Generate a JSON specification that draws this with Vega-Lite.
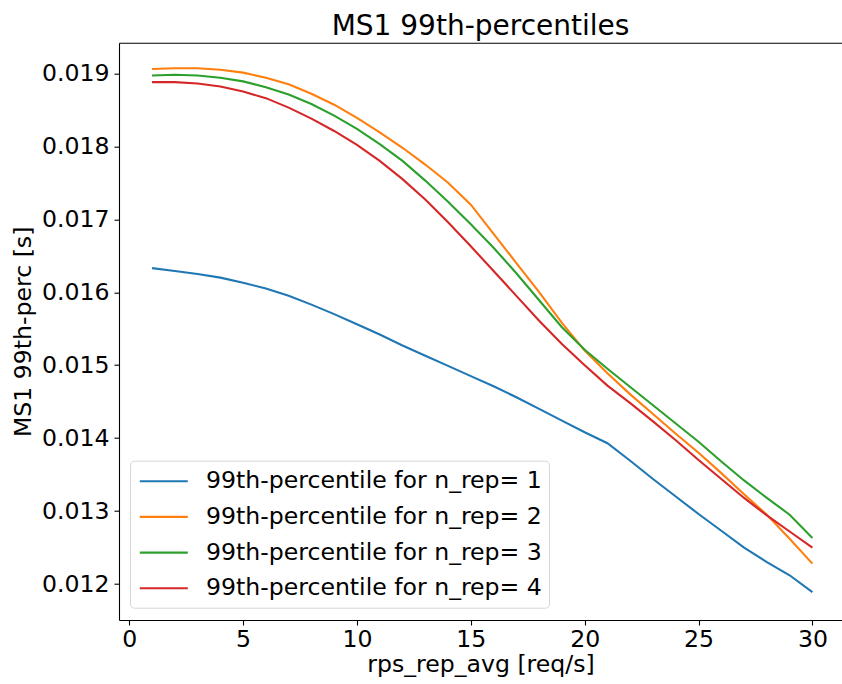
{
  "$schema": "https://vega.github.io/schema/vega-lite/v6.json",
  "width": 723,
  "height": 577.3,
  "autosize": "none",
  "padding": {"left": 119, "top": 42.7, "right": 0, "bottom": 64},
  "title": {"text": "MS1 99th-percentiles", "fontSize": 28, "font": "DejaVu Sans", "fontWeight": "normal", "color": "black", "offset": 2},
  "config": {
    "view": {"stroke": null},
    "font": "DejaVu Sans",
    "axis": {
      "grid": false,
      "domainColor": "black",
      "domainWidth": 1.1,
      "tickColor": "black",
      "tickWidth": 1.1,
      "tickSize": 5,
      "labelPadding": 5,
      "labelFont": "DejaVu Sans",
      "labelFontSize": 23.6,
      "labelColor": "black",
      "titleFont": "DejaVu Sans",
      "titleFontSize": 23.6,
      "titleFontWeight": "normal",
      "titleColor": "black"
    },
    "legend": {
      "labelFont": "DejaVu Sans",
      "labelFontSize": 23.6,
      "labelColor": "black"
    }
  },
  "data": {"values": [
    {"rps": 1, "perc": 0.01633, "series": "99th-percentile for n_rep= 1"},
    {"rps": 2, "perc": 0.01629, "series": "99th-percentile for n_rep= 1"},
    {"rps": 3, "perc": 0.01625, "series": "99th-percentile for n_rep= 1"},
    {"rps": 4, "perc": 0.01620, "series": "99th-percentile for n_rep= 1"},
    {"rps": 5, "perc": 0.01613, "series": "99th-percentile for n_rep= 1"},
    {"rps": 6, "perc": 0.01605, "series": "99th-percentile for n_rep= 1"},
    {"rps": 7, "perc": 0.01595, "series": "99th-percentile for n_rep= 1"},
    {"rps": 8, "perc": 0.01583, "series": "99th-percentile for n_rep= 1"},
    {"rps": 9, "perc": 0.01570, "series": "99th-percentile for n_rep= 1"},
    {"rps": 10, "perc": 0.01556, "series": "99th-percentile for n_rep= 1"},
    {"rps": 11, "perc": 0.01542, "series": "99th-percentile for n_rep= 1"},
    {"rps": 12, "perc": 0.01527, "series": "99th-percentile for n_rep= 1"},
    {"rps": 13, "perc": 0.01513, "series": "99th-percentile for n_rep= 1"},
    {"rps": 14, "perc": 0.01499, "series": "99th-percentile for n_rep= 1"},
    {"rps": 15, "perc": 0.01485, "series": "99th-percentile for n_rep= 1"},
    {"rps": 16, "perc": 0.01471, "series": "99th-percentile for n_rep= 1"},
    {"rps": 17, "perc": 0.01456, "series": "99th-percentile for n_rep= 1"},
    {"rps": 18, "perc": 0.01440, "series": "99th-percentile for n_rep= 1"},
    {"rps": 19, "perc": 0.01424, "series": "99th-percentile for n_rep= 1"},
    {"rps": 20, "perc": 0.01408, "series": "99th-percentile for n_rep= 1"},
    {"rps": 21, "perc": 0.01393, "series": "99th-percentile for n_rep= 1"},
    {"rps": 22, "perc": 0.01369, "series": "99th-percentile for n_rep= 1"},
    {"rps": 23, "perc": 0.01344, "series": "99th-percentile for n_rep= 1"},
    {"rps": 24, "perc": 0.01320, "series": "99th-percentile for n_rep= 1"},
    {"rps": 25, "perc": 0.01296, "series": "99th-percentile for n_rep= 1"},
    {"rps": 26, "perc": 0.01273, "series": "99th-percentile for n_rep= 1"},
    {"rps": 27, "perc": 0.01250, "series": "99th-percentile for n_rep= 1"},
    {"rps": 28, "perc": 0.01230, "series": "99th-percentile for n_rep= 1"},
    {"rps": 29, "perc": 0.01212, "series": "99th-percentile for n_rep= 1"},
    {"rps": 30, "perc": 0.01189, "series": "99th-percentile for n_rep= 1"},
    {"rps": 1, "perc": 0.01906, "series": "99th-percentile for n_rep= 2"},
    {"rps": 2, "perc": 0.01907, "series": "99th-percentile for n_rep= 2"},
    {"rps": 3, "perc": 0.01907, "series": "99th-percentile for n_rep= 2"},
    {"rps": 4, "perc": 0.01905, "series": "99th-percentile for n_rep= 2"},
    {"rps": 5, "perc": 0.01901, "series": "99th-percentile for n_rep= 2"},
    {"rps": 6, "perc": 0.01894, "series": "99th-percentile for n_rep= 2"},
    {"rps": 7, "perc": 0.01885, "series": "99th-percentile for n_rep= 2"},
    {"rps": 8, "perc": 0.01872, "series": "99th-percentile for n_rep= 2"},
    {"rps": 9, "perc": 0.01857, "series": "99th-percentile for n_rep= 2"},
    {"rps": 10, "perc": 0.01839, "series": "99th-percentile for n_rep= 2"},
    {"rps": 11, "perc": 0.01819, "series": "99th-percentile for n_rep= 2"},
    {"rps": 12, "perc": 0.01798, "series": "99th-percentile for n_rep= 2"},
    {"rps": 13, "perc": 0.01775, "series": "99th-percentile for n_rep= 2"},
    {"rps": 14, "perc": 0.01750, "series": "99th-percentile for n_rep= 2"},
    {"rps": 15, "perc": 0.01720, "series": "99th-percentile for n_rep= 2"},
    {"rps": 16, "perc": 0.01680, "series": "99th-percentile for n_rep= 2"},
    {"rps": 17, "perc": 0.01640, "series": "99th-percentile for n_rep= 2"},
    {"rps": 18, "perc": 0.01600, "series": "99th-percentile for n_rep= 2"},
    {"rps": 19, "perc": 0.01558, "series": "99th-percentile for n_rep= 2"},
    {"rps": 20, "perc": 0.01520, "series": "99th-percentile for n_rep= 2"},
    {"rps": 21, "perc": 0.01489, "series": "99th-percentile for n_rep= 2"},
    {"rps": 22, "perc": 0.01460, "series": "99th-percentile for n_rep= 2"},
    {"rps": 23, "perc": 0.01433, "series": "99th-percentile for n_rep= 2"},
    {"rps": 24, "perc": 0.01406, "series": "99th-percentile for n_rep= 2"},
    {"rps": 25, "perc": 0.01380, "series": "99th-percentile for n_rep= 2"},
    {"rps": 26, "perc": 0.01352, "series": "99th-percentile for n_rep= 2"},
    {"rps": 27, "perc": 0.01323, "series": "99th-percentile for n_rep= 2"},
    {"rps": 28, "perc": 0.01295, "series": "99th-percentile for n_rep= 2"},
    {"rps": 29, "perc": 0.01262, "series": "99th-percentile for n_rep= 2"},
    {"rps": 30, "perc": 0.01228, "series": "99th-percentile for n_rep= 2"},
    {"rps": 1, "perc": 0.01897, "series": "99th-percentile for n_rep= 3"},
    {"rps": 2, "perc": 0.01898, "series": "99th-percentile for n_rep= 3"},
    {"rps": 3, "perc": 0.01897, "series": "99th-percentile for n_rep= 3"},
    {"rps": 4, "perc": 0.01894, "series": "99th-percentile for n_rep= 3"},
    {"rps": 5, "perc": 0.01889, "series": "99th-percentile for n_rep= 3"},
    {"rps": 6, "perc": 0.01881, "series": "99th-percentile for n_rep= 3"},
    {"rps": 7, "perc": 0.01871, "series": "99th-percentile for n_rep= 3"},
    {"rps": 8, "perc": 0.01858, "series": "99th-percentile for n_rep= 3"},
    {"rps": 9, "perc": 0.01842, "series": "99th-percentile for n_rep= 3"},
    {"rps": 10, "perc": 0.01824, "series": "99th-percentile for n_rep= 3"},
    {"rps": 11, "perc": 0.01803, "series": "99th-percentile for n_rep= 3"},
    {"rps": 12, "perc": 0.01780, "series": "99th-percentile for n_rep= 3"},
    {"rps": 13, "perc": 0.01753, "series": "99th-percentile for n_rep= 3"},
    {"rps": 14, "perc": 0.01724, "series": "99th-percentile for n_rep= 3"},
    {"rps": 15, "perc": 0.01693, "series": "99th-percentile for n_rep= 3"},
    {"rps": 16, "perc": 0.01661, "series": "99th-percentile for n_rep= 3"},
    {"rps": 17, "perc": 0.01626, "series": "99th-percentile for n_rep= 3"},
    {"rps": 18, "perc": 0.01589, "series": "99th-percentile for n_rep= 3"},
    {"rps": 19, "perc": 0.01552, "series": "99th-percentile for n_rep= 3"},
    {"rps": 20, "perc": 0.01521, "series": "99th-percentile for n_rep= 3"},
    {"rps": 21, "perc": 0.01495, "series": "99th-percentile for n_rep= 3"},
    {"rps": 22, "perc": 0.01470, "series": "99th-percentile for n_rep= 3"},
    {"rps": 23, "perc": 0.01445, "series": "99th-percentile for n_rep= 3"},
    {"rps": 24, "perc": 0.01420, "series": "99th-percentile for n_rep= 3"},
    {"rps": 25, "perc": 0.01395, "series": "99th-percentile for n_rep= 3"},
    {"rps": 26, "perc": 0.01368, "series": "99th-percentile for n_rep= 3"},
    {"rps": 27, "perc": 0.01342, "series": "99th-percentile for n_rep= 3"},
    {"rps": 28, "perc": 0.01318, "series": "99th-percentile for n_rep= 3"},
    {"rps": 29, "perc": 0.01295, "series": "99th-percentile for n_rep= 3"},
    {"rps": 30, "perc": 0.01263, "series": "99th-percentile for n_rep= 3"},
    {"rps": 1, "perc": 0.01888, "series": "99th-percentile for n_rep= 4"},
    {"rps": 2, "perc": 0.01888, "series": "99th-percentile for n_rep= 4"},
    {"rps": 3, "perc": 0.01886, "series": "99th-percentile for n_rep= 4"},
    {"rps": 4, "perc": 0.01882, "series": "99th-percentile for n_rep= 4"},
    {"rps": 5, "perc": 0.01875, "series": "99th-percentile for n_rep= 4"},
    {"rps": 6, "perc": 0.01866, "series": "99th-percentile for n_rep= 4"},
    {"rps": 7, "perc": 0.01853, "series": "99th-percentile for n_rep= 4"},
    {"rps": 8, "perc": 0.01838, "series": "99th-percentile for n_rep= 4"},
    {"rps": 9, "perc": 0.01821, "series": "99th-percentile for n_rep= 4"},
    {"rps": 10, "perc": 0.01802, "series": "99th-percentile for n_rep= 4"},
    {"rps": 11, "perc": 0.01780, "series": "99th-percentile for n_rep= 4"},
    {"rps": 12, "perc": 0.01755, "series": "99th-percentile for n_rep= 4"},
    {"rps": 13, "perc": 0.01727, "series": "99th-percentile for n_rep= 4"},
    {"rps": 14, "perc": 0.01696, "series": "99th-percentile for n_rep= 4"},
    {"rps": 15, "perc": 0.01663, "series": "99th-percentile for n_rep= 4"},
    {"rps": 16, "perc": 0.01629, "series": "99th-percentile for n_rep= 4"},
    {"rps": 17, "perc": 0.01595, "series": "99th-percentile for n_rep= 4"},
    {"rps": 18, "perc": 0.01561, "series": "99th-percentile for n_rep= 4"},
    {"rps": 19, "perc": 0.01529, "series": "99th-percentile for n_rep= 4"},
    {"rps": 20, "perc": 0.01500, "series": "99th-percentile for n_rep= 4"},
    {"rps": 21, "perc": 0.01472, "series": "99th-percentile for n_rep= 4"},
    {"rps": 22, "perc": 0.01448, "series": "99th-percentile for n_rep= 4"},
    {"rps": 23, "perc": 0.01423, "series": "99th-percentile for n_rep= 4"},
    {"rps": 24, "perc": 0.01397, "series": "99th-percentile for n_rep= 4"},
    {"rps": 25, "perc": 0.01370, "series": "99th-percentile for n_rep= 4"},
    {"rps": 26, "perc": 0.01344, "series": "99th-percentile for n_rep= 4"},
    {"rps": 27, "perc": 0.01318, "series": "99th-percentile for n_rep= 4"},
    {"rps": 28, "perc": 0.01294, "series": "99th-percentile for n_rep= 4"},
    {"rps": 29, "perc": 0.01272, "series": "99th-percentile for n_rep= 4"},
    {"rps": 30, "perc": 0.01250, "series": "99th-percentile for n_rep= 4"}
  ]},
  "layer": [
    {
      "mark": {"type": "line", "strokeWidth": 2.1},
      "encoding": {
        "x": {
          "field": "rps", "type": "quantitative",
          "scale": {"domain": [-0.45, 31.3], "nice": false, "zero": false},
          "axis": {"orient": "bottom", "title": "rps_rep_avg [req/s]", "values": [0, 5, 10, 15, 20, 25, 30], "labelFlush": false, "labelOverlap": false, "labelPadding": 2, "titlePadding": 2}
        },
        "y": {
          "field": "perc", "type": "quantitative",
          "scale": {"domain": [0.011507, 0.01942], "nice": false, "zero": false},
          "axis": {"title": "MS1 99th-perc [s]", "values": [0.012, 0.013, 0.014, 0.015, 0.016, 0.017, 0.018, 0.019], "format": ".3f", "labelOverlap": false, "titlePadding": 6}
        },
        "color": {
          "field": "series", "type": "nominal",
          "scale": {
            "domain": ["99th-percentile for n_rep= 1", "99th-percentile for n_rep= 2", "99th-percentile for n_rep= 3", "99th-percentile for n_rep= 4"],
            "range": ["#1f77b4", "#ff7f0e", "#2ca02c", "#d62728"]
          },
          "legend": {
            "orient": "none",
            "legendX": 11,
            "legendY": 418,
            "title": null,
            "fillColor": "white",
            "strokeColor": "#d6d6d6",
            "cornerRadius": 4,
            "padding": 7,
            "symbolType": "M-0.892,0H3.108",
            "symbolSize": 576,
            "symbolStrokeWidth": 2.1,
            "labelOffset": 42,
            "labelLimit": 600,
            "rowPadding": 9.7
          }
        }
      }
    },
    {
      "mark": {"type": "line", "opacity": 0},
      "encoding": {
        "x": {
          "field": "rps", "type": "quantitative",
          "axis": {"orient": "top", "title": null, "labels": false, "ticks": false, "domain": true}
        },
        "y": {
          "field": "perc", "type": "quantitative",
          "axis": {"title": "MS1 99th-perc [s]", "values": [0.012, 0.013, 0.014, 0.015, 0.016, 0.017, 0.018, 0.019], "format": ".3f", "labelOverlap": false, "titlePadding": 6}
        }
      }
    }
  ],
  "resolve": {"axis": {"x": "independent"}}
}
